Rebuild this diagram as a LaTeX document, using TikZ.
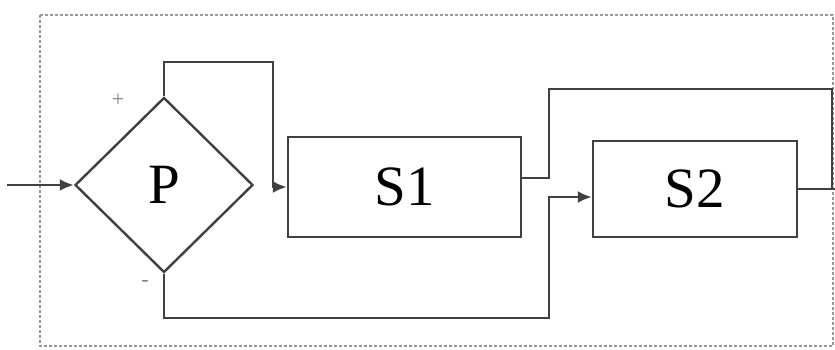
\documentclass[tikz,border=0pt]{standalone}
\usepackage{fontspec}
\setmainfont{Liberation Serif}
\usetikzlibrary{shapes.geometric,arrows.meta,calc}
\begin{document}
\begin{tikzpicture}[x=1pt,y=-1pt,
  ln/.style={draw=black!75,line width=2.4pt},
  arr/.style={ln,-{Latex[length=14pt,width=12pt]}},
  blk/.style={rectangle,draw=black!75,line width=2.4pt,inner sep=0pt,font=\fontsize{57}{60}\selectfont},
  dec/.style={diamond,draw=black!75,line width=2.4pt,inner sep=0pt,font=\fontsize{57}{60}\selectfont},
  sgn/.style={text=black!50,font=\fontsize{22}{24}\selectfont}]
\useasboundingbox (0,0) rectangle (835,349);
\draw[black!40,dash pattern=on 3pt off 2pt,line width=1.2pt] (40,15) rectangle (833,346);
\node[dec,minimum width=178pt,minimum height=175pt] (P) at (164,185) {P};
\node[blk,minimum width=233pt,minimum height=100pt] (S1) at (404.5,187) {S1};
\node[blk,minimum width=204pt,minimum height=96pt] (S2) at (695,189) {S2};
\node[sgn] (plus) at (118,100) {+};
\node[sgn] (minus) at (145,283) {-};
\coordinate (in) at (7,185);
\coordinate (a1) at (273,62);
\coordinate (b1) at (549,89);
\coordinate (b2) at (832,89);
\coordinate (c1) at (549,318);
\coordinate (out) at (835,189);
\draw[arr] (in) -- (P.west);
\draw[arr] (P.north) |- (a1) |- (S1.west);
\draw[ln] ($(S1.east)+(0,-9)$) -| (b1) -- (b2) |- (out);
\draw[ln] (S2.east) -- (out);
\draw[arr] (P.south) |- (c1) |- ($(S2.west)+(0,8)$);
\end{tikzpicture}
\end{document}
